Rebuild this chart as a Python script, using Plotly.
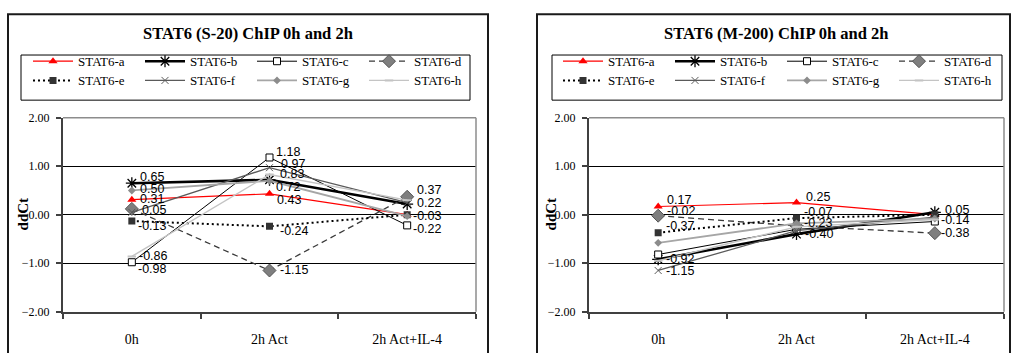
import plotly.graph_objects as go

# ---------------------------------------------------------------- data
categories = ["0h", "2h Act", "2h Act+IL-4"]
series_names = ["STAT6-a", "STAT6-b", "STAT6-c", "STAT6-d",
                "STAT6-e", "STAT6-f", "STAT6-g", "STAT6-h"]

# STAT6 (S-20) ChIP, ddCt
s20_a = [0.31, 0.43, 0.00]
s20_b = [0.65, 0.72, 0.22]
s20_c = [-0.98, 1.18, -0.22]
s20_d = [0.12, -1.15, 0.37]
s20_e = [-0.13, -0.24, 0.00]
s20_f = [0.05, 0.97, 0.25]
s20_g = [0.50, 0.70, -0.03]
s20_h = [-0.86, 0.83, 0.30]

# STAT6 (M-200) ChIP, ddCt
m200_a = [0.17, 0.25, 0.00]
m200_b = [-0.92, -0.40, 0.05]
m200_c = [-0.82, -0.30, -0.14]
m200_d = [-0.02, -0.23, -0.38]
m200_e = [-0.37, -0.07, 0.00]
m200_f = [-1.15, -0.33, -0.05]
m200_g = [-0.58, -0.18, -0.08]
m200_h = [-0.95, -0.25, -0.10]

y_ticks = [-2, -1, 0, 1, 2]

s20 = dict(zip(series_names, [s20_a, s20_b, s20_c, s20_d, s20_e, s20_f, s20_g, s20_h]))
m200 = dict(zip(series_names, [m200_a, m200_b, m200_c, m200_d, m200_e, m200_f, m200_g, m200_h]))

# ---------------------------------------------------------------- styles
W, H = 1011, 353
SERIF = "'Liberation Serif', 'Times New Roman', Times, serif"
SANS = "'Liberation Sans', Arial, sans-serif"

styles = {
    "STAT6-a": dict(line=dict(color="#ff0000", width=1.2),
                    marker=dict(symbol="triangle-up", size=8, color="#ff0000")),
    "STAT6-b": dict(line=dict(color="#000000", width=2.6),
                    marker=dict(symbol="asterisk-open", size=10,
                                line=dict(color="#000000", width=1.3))),
    "STAT6-c": dict(line=dict(color="#000000", width=1),
                    marker=dict(symbol="square", size=7, color="#ffffff",
                                line=dict(color="#000000", width=1))),
    "STAT6-d": dict(line=dict(color="#3a3a3a", width=1.3, dash="6px,4px"),
                    marker=dict(symbol="diamond", size=10, color="#7f7f7f",
                                line=dict(color="#555555", width=1))),
    "STAT6-e": dict(line=dict(color="#000000", width=2, dash="2px,3px"),
                    marker=dict(symbol="square", size=7, color="#333333")),
    "STAT6-f": dict(line=dict(color="#5a5a5a", width=1.3),
                    marker=dict(symbol="x-thin-open", size=7,
                                line=dict(color="#555555", width=1))),
    "STAT6-g": dict(line=dict(color="#a6a6a6", width=1.8),
                    marker=dict(symbol="diamond", size=6, color="#8c8c8c")),
    "STAT6-h": dict(line=dict(color="#c4c4c4", width=1.4),
                    marker=dict(symbol="line-ew-open", size=6,
                                line=dict(color="#000000", width=2))),
}

# value labels: point index -> (x offset, y offset) in px
s20_labels = {
    "STAT6-a": {0: (7, 1), 1: (6, -6.5)},
    "STAT6-b": {0: (7, 6), 1: (5, -7.5), 2: (9, 1)},
    "STAT6-c": {0: (5, -7), 1: (5, 5), 2: (5, -3.5)},
    "STAT6-d": {1: (9, 0), 2: (9, 6.5)},
    "STAT6-e": {0: (5, -5), 1: (9, -4.5)},
    "STAT6-f": {0: (9, 2.5), 1: (10, 4)},
    "STAT6-g": {0: (7, 1.5), 2: (5, 0)},
    "STAT6-h": {0: (6, 0), 1: (9, 0)},
}
m200_labels = {
    "STAT6-a": {0: (8, 6), 1: (8, 6)},
    "STAT6-b": {0: (7, 0), 1: (7, 0), 2: (9, 2.5)},
    "STAT6-c": {2: (5, 2)},
    "STAT6-d": {0: (8, 5), 1: (6, 2.5), 2: (5, 0)},
    "STAT6-e": {0: (7, 7), 1: (6, 6)},
    "STAT6-f": {0: (7, -1)},
}

fig = go.Figure()


def add_panel(data, labels, xa, ya, legends):
    for i, name in enumerate(series_names):
        st = styles[name]
        fig.add_trace(go.Scatter(
            x=categories, y=data[name], name=name, mode="lines+markers",
            line=st["line"], marker=st["marker"],
            xaxis=xa, yaxis=ya, legend=legends[i // 4], showlegend=True,
        ))
        for idx, (dx, dy) in labels.get(name, {}).items():
            fig.add_annotation(
                x=categories[idx], y=data[name][idx], xref=xa, yref=ya,
                text=f"{data[name][idx]:.2f}", showarrow=False,
                xanchor="left", yanchor="middle", xshift=dx, yshift=dy,
                font=dict(family=SANS, size=12.5, color="#000000"),
                borderpad=0,
            )


add_panel(s20, s20_labels, "x", "y", ["legend", "legend2"])
add_panel(m200, m200_labels, "x2", "y2", ["legend3", "legend4"])


def px_x(p):
    return p / W


def px_y(p):
    return 1 - p / H


y_dom = [px_y(317.3), px_y(115.3)]
x_dom_left = [px_x(63), px_x(476)]
x_dom_right = [px_x(589), px_x(1004)]

xaxis_common = dict(
    type="category", range=[-0.5, 2.5], showgrid=False, zeroline=False,
    showline=True, linecolor="#404040", linewidth=2,
    ticks="outside", tickson="boundaries", ticklen=5, tickcolor="#404040",
    tickwidth=1.5, ticklabelstandoff=13,
    tickfont=dict(family=SERIF, size=14, color="#000000"), fixedrange=True,
)
yaxis_common = dict(
    range=[-2, 2], tickvals=y_ticks, tickformat=".2f",
    showgrid=True, gridcolor="#000000", gridwidth=1, zeroline=False,
    showline=True, linecolor="#404040", linewidth=2,
    ticks="outside", ticklen=5, tickcolor="#404040", tickwidth=1.5,
    ticklabelstandoff=4,
    tickfont=dict(family=SERIF, size=12, color="#000000"), fixedrange=True,
)

legend_common = dict(
    orientation="h", xanchor="left", yanchor="middle",
    bgcolor="rgba(0,0,0,0)", borderwidth=0,
    font=dict(family=SERIF, size=13, color="#000000"),
    entrywidth=57, entrywidthmode="pixels", itemwidth=40,
    itemclick=False, itemdoubleclick=False,
)

fig.update_layout(
    width=W, height=H, margin=dict(l=0, r=0, t=0, b=0),
    font=dict(family=SERIF, size=12, color="#000000"),
    paper_bgcolor="#ffffff", plot_bgcolor="#ffffff",
    xaxis=dict(domain=x_dom_left, anchor="y", **xaxis_common),
    yaxis=dict(domain=y_dom, anchor="x", **yaxis_common),
    xaxis2=dict(domain=x_dom_right, anchor="y2", **xaxis_common),
    yaxis2=dict(domain=y_dom, anchor="x2", **yaxis_common),
    legend=dict(x=px_x(28), y=px_y(56.5), **legend_common),
    legend2=dict(x=px_x(28), y=px_y(76.5), **legend_common),
    legend3=dict(x=px_x(558), y=px_y(56.5), **legend_common),
    legend4=dict(x=px_x(558), y=px_y(76.5), **legend_common),
    showlegend=True,
)

shapes = []
# panel frames
for x0, x1 in [(8, 488), (537, 1010)]:
    shapes.append(dict(type="rect", xref="paper", yref="paper",
                       x0=px_x(x0), x1=px_x(x1), y0=-0.2, y1=px_y(7.5),
                       line=dict(color="#1a1a1a", width=2), layer="below"))
# legend boxes
for x0, x1 in [(21, 470), (552, 1002)]:
    shapes.append(dict(type="rect", xref="paper", yref="paper",
                       x0=px_x(x0), x1=px_x(x1), y0=px_y(97), y1=px_y(50),
                       line=dict(color="#000000", width=1), layer="below"))
# plot-area top and right edges
for xr, yr in [("x domain", "y domain"), ("x2 domain", "y2 domain")]:
    shapes.append(dict(type="line", xref=xr, yref=yr, x0=0, x1=1, y0=1, y1=1,
                       line=dict(color="#8c8c8c", width=1.5), layer="above"))
    shapes.append(dict(type="line", xref=xr, yref=yr, x0=1, x1=1, y0=0, y1=1,
                       line=dict(color="#8c8c8c", width=1.5), layer="above"))
fig.update_layout(shapes=shapes)

# panel titles and y-axis titles
for cx, title in [(248, "STAT6 (S-20) ChIP 0h and 2h"), (776, "STAT6 (M-200) ChIP 0h and 2h")]:
    fig.add_annotation(x=px_x(cx), y=px_y(28), xref="paper", yref="paper",
                       text=f"<b>{title}</b>", showarrow=False,
                       xanchor="center", yanchor="middle",
                       font=dict(family=SERIF, size=16.5, color="#000000"))
for cx in [23, 551]:
    fig.add_annotation(x=px_x(cx), y=px_y(216), xref="paper", yref="paper",
                       text="<b>ddCt</b>", showarrow=False, textangle=-90,
                       xanchor="center", yanchor="middle",
                       font=dict(family=SERIF, size=15, color="#000000"))

fig.write_html("out.html")
